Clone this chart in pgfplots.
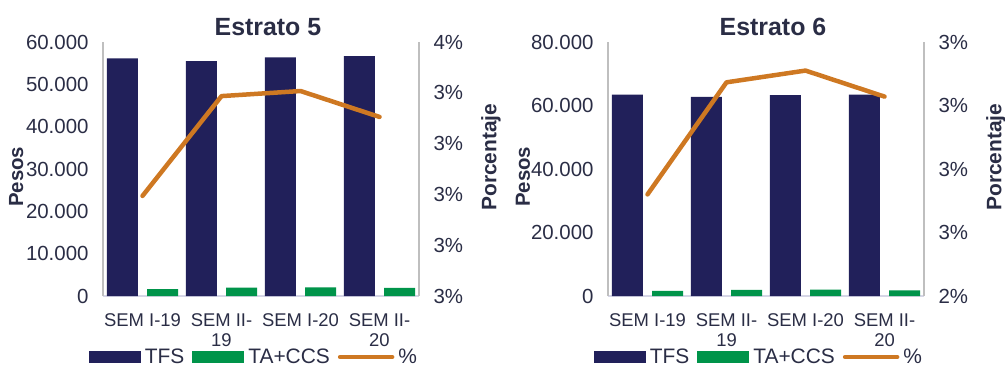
\documentclass[border=0pt]{standalone}
\usepackage{pgfplots}
\pgfplotsset{compat=1.18}
\usepackage{fontspec}
\setmainfont{Liberation Sans}
\definecolor{navy}{HTML}{21205A}
\definecolor{grn}{HTML}{00944A}
\definecolor{org}{HTML}{CE7822}
\definecolor{txt}{HTML}{2A2D45}
\definecolor{axgray}{HTML}{BFBFBF}
\definecolor{axlav}{HTML}{D6D6E6}
\pgfplotsset{
  barax/.style={
    scale only axis, width=316bp, height=254bp,
    anchor=south west,
    xmin=-0.5, xmax=3.5, ymin=0,
    scaled y ticks=false,
    xtick={0,1,2,3},
    xticklabels={SEM I-19,{SEM II-\\19},SEM I-20,{SEM II-\\20}},
    xticklabel style={font=\fontsize{18.5}{20.5}\selectfont, color=txt, align=center, yshift=-14bp},
    yticklabel style={font=\fontsize{20.5}{24}\selectfont, color=txt, xshift=-11bp},
    major tick length=0pt,
    axis x line*=bottom, axis y line*=left,
    x axis line style={-, color=axlav, line width=1.2bp},
    y axis line style={-, color=axgray, line width=1.2bp},
    /pgf/number format/assume math mode=true,
    ybar, bar width=0.39,
    clip=false,
    legend columns=3,
    legend style={draw=none, fill=none, font=\fontsize{21}{24}\selectfont, text=txt,
      anchor=west, at={(rel axis cs:-0.055,-0.24)},
      /tikz/every even column/.style={column sep=4bp},
      nodes={inner xsep=4bp, inner ysep=1bp}},
  },
  lineax/.style={
    scale only axis, width=316bp, height=254bp,
    anchor=south west,
    xmin=-0.5, xmax=3.5,
    axis x line=none, axis y line*=right,
    y axis line style={-, color=axgray, line width=1.2bp},
    major tick length=0pt,
    yticklabel style={font=\fontsize{20.5}{24}\selectfont, color=txt, xshift=11bp},
    clip=false,
  },
  barleg/.style={legend image code/.code={\fill[##1,draw=none] (0bp,-6bp) rectangle (52bp,6bp);}},
  lineleg/.style={legend image code/.code={\draw[##1] (2bp,0bp) -- (54bp,0bp);}},
  pctline/.style={color=org, line width=4.5bp, line cap=round, line join=round},
}
\begin{document}
\begin{tikzpicture}
\useasboundingbox (0,0) rectangle (1005bp,367bp);
% ---------------- Estrato 5 ----------------
\begin{axis}[barax, at={(103bp,71bp)}, ymax=60000,
  ytick={0,10000,20000,30000,40000,50000,60000},
  yticklabels={0,10.000,20.000,30.000,40.000,50.000,60.000}]
\addplot[fill=navy, draw=none, bar shift=-0.255, barleg] coordinates {(0,56150) (1,55510) (2,56390) (3,56690)};
\addlegendentry{TFS}
\addplot[fill=grn, draw=none, bar shift=0.255, barleg] coordinates {(0,1650) (1,1960) (2,2050) (3,1890)};
\addlegendentry{TA+CCS}
\addlegendimage{pctline, lineleg}
\addlegendentry{\%}
\node[rotate=90, font=\bfseries\fontsize{20.5}{24}\selectfont, text=txt] at (rel axis cs:-0.275,0.469) {Pesos};
\node[font=\bfseries\fontsize{25}{30}\selectfont, text=txt] at (rel axis cs:0.522,1.059) {Estrato 5};
\end{axis}
\begin{axis}[lineax, at={(103bp,71bp)}, ymin=2.6, ymax=3.6,
  ytick={2.6,2.8,3.0,3.2,3.4,3.6},
  yticklabels={3\%,3\%,3\%,3\%,3\%,4\%}]
\addplot[pctline] coordinates {(0,2.994) (1,3.387) (2,3.407) (3,3.305)};
\node[rotate=90, font=\bfseries\fontsize{21}{24}\selectfont, text=txt] at (rel axis cs:1.228,0.547) {Porcentaje};
\end{axis}
% ---------------- Estrato 6 ----------------
\begin{axis}[barax, at={(608bp,71bp)}, ymax=80000,
  ytick={0,20000,40000,60000,80000},
  yticklabels={0,20.000,40.000,60.000,80.000}]
\addplot[fill=navy, draw=none, bar shift=-0.255, barleg] coordinates {(0,63400) (1,62680) (2,63300) (3,63400)};
\addlegendentry{TFS}
\addplot[fill=grn, draw=none, bar shift=0.255, barleg] coordinates {(0,1575) (1,1890) (2,2000) (3,1800)};
\addlegendentry{TA+CCS}
\addlegendimage{pctline, lineleg}
\addlegendentry{\%}
\node[rotate=90, font=\bfseries\fontsize{20.5}{24}\selectfont, text=txt] at (rel axis cs:-0.269,0.469) {Pesos};
\node[font=\bfseries\fontsize{25}{30}\selectfont, text=txt] at (rel axis cs:0.522,1.059) {Estrato 6};
\end{axis}
\begin{axis}[lineax, at={(608bp,71bp)}, ymin=2.4, ymax=3.2,
  ytick={2.4,2.6,2.8,3.0,3.2},
  yticklabels={2\%,3\%,3\%,3\%,3\%}]
\addplot[pctline] coordinates {(0,2.72) (1,3.073) (2,3.11) (3,3.028)};
\node[rotate=90, font=\bfseries\fontsize{21}{24}\selectfont, text=txt] at (rel axis cs:1.228,0.547) {Porcentaje};
\end{axis}
\end{tikzpicture}
\end{document}
